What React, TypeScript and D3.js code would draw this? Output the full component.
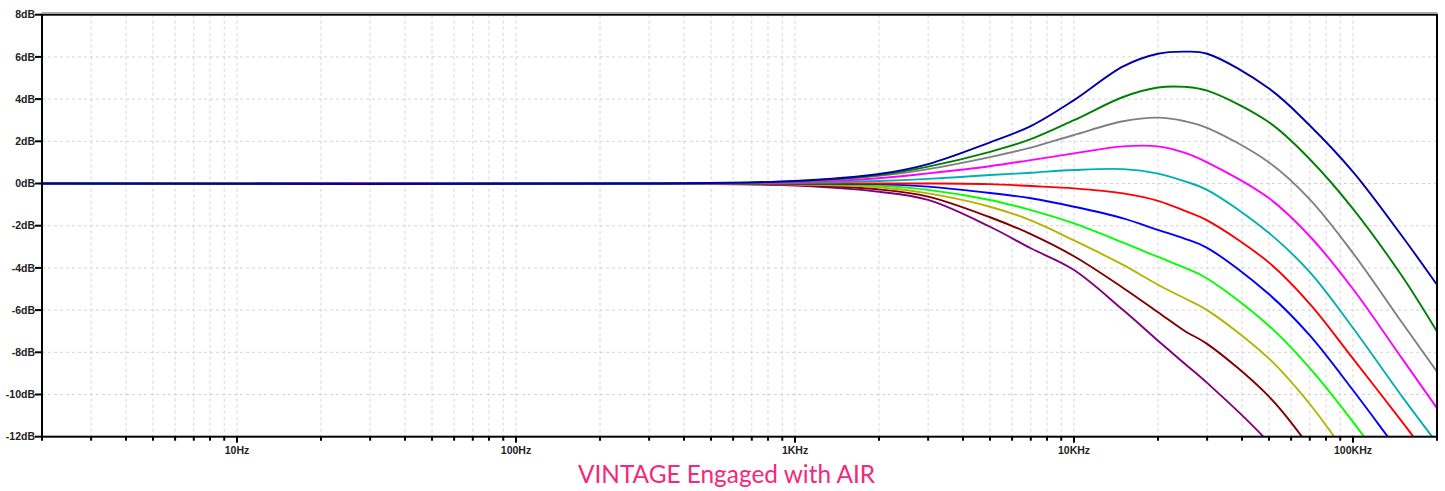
import { useMemo } from 'react';
import * as d3 from 'd3';

// frequency points (Hz) shared by every trace
const freqs = [2, 300, 1000, 2000, 3000, 5000, 7000, 10000, 15000, 20000, 25000, 30000, 50000, 70000, 100000, 150000, 200000];

// dB readings per trace, top trace first
const darkBlue = [0, 0, 0.12, 0.45, 0.92, 1.95, 2.72, 3.95, 5.55, 6.15, 6.25, 6.15, 4.5, 2.75, 0.55, -2.5, -4.8];
const green = [0, 0, 0.1, 0.4, 0.8, 1.5, 2.1, 3.0, 4.1, 4.55, 4.58, 4.4, 2.9, 1.15, -1.2, -4.4, -7.02];
const gray = [0, 0, 0.09, 0.36, 0.68, 1.25, 1.7, 2.3, 2.95, 3.12, 2.95, 2.64, 1.0, -0.75, -3.3, -6.6, -8.92];
const magenta = [0, 0, 0.06, 0.25, 0.48, 0.82, 1.11, 1.43, 1.76, 1.76, 1.45, 1.0, -0.7, -2.5, -5.0, -8.3, -10.65];
const cyan = [0, 0, 0.03, 0.12, 0.22, 0.4, 0.51, 0.64, 0.68, 0.47, 0.1, -0.3, -2.35, -4.2, -6.85, -10.1, -12.3];
const red = [0, 0, 0, 0, 0, -0.03, -0.12, -0.23, -0.47, -0.82, -1.3, -1.75, -3.75, -5.7, -8.3, -11.3, -13.5];
const blue = [0, 0, -0.01, -0.03, -0.15, -0.45, -0.7, -1.1, -1.65, -2.2, -2.62, -3.05, -5.25, -7.2, -9.8, -12.9, -15];
const lightGreen = [0, 0, -0.03, -0.1, -0.3, -0.78, -1.26, -1.89, -2.8, -3.48, -4.0, -4.5, -6.75, -8.75, -11.3, -14.5, -16.7];
const olive = [0, 0, -0.05, -0.18, -0.47, -1.1, -1.75, -2.7, -3.86, -4.8, -5.45, -6.0, -8.3, -10.45, -13.2, -16, -18];
const maroon = [0, 0, -0.07, -0.28, -0.62, -1.6, -2.4, -3.45, -4.95, -6.1, -7.0, -7.6, -10.1, -12.5, -15.5, -18.5, -20.5];
const purple = [0, 0, -0.1, -0.39, -0.78, -2.05, -3.07, -4.1, -6.0, -7.45, -8.55, -9.45, -12.3, -15, -18, -21, -23];

const series = [
  { values: purple, color: '#800080' },
  { values: maroon, color: '#800000' },
  { values: olive, color: '#b4b400' },
  { values: lightGreen, color: '#00ff00' },
  { values: blue, color: '#0000ff' },
  { values: red, color: '#ff0000' },
  { values: cyan, color: '#00b0b0' },
  { values: magenta, color: '#ff00ff' },
  { values: gray, color: '#808080' },
  { values: green, color: '#008000' },
  { values: darkBlue, color: '#0000a8' },
];

const yTicks = [8, 6, 4, 2, 0, -2, -4, -6, -8, -10, -12];
const xMajor = [10, 100, 1000, 10000, 100000];
const xLabels = ['10Hz', '100Hz', '1KHz', '10KHz', '100KHz'];
const title = 'VINTAGE Engaged with AIR';

const W = 1445;
const H = 491;
const margin = { top: 14.7, right: 8, bottom: 54.3, left: 42 };

export default function App() {
  const x = d3.scaleLog().domain([2, 200000]).range([margin.left, W - margin.right]);
  const y = d3.scaleLinear().domain([-12, 8]).range([H - margin.bottom, margin.top]);

  const minorTicks = useMemo(() => {
    const out: number[] = [];
    for (let d = 1; d <= 100000; d *= 10) {
      for (let m = 1; m <= 9; m++) {
        const f = d * m;
        if (f >= 2 && f <= 200000) out.push(f);
      }
    }
    return out;
  }, []);

  const line = d3.line<number>()
    .x((_, i) => x(freqs[i]))
    .y(d => y(d))
    .curve(d3.curveCatmullRom.alpha(0.5));

  const x0 = x.range()[0];
  const x1 = x.range()[1];
  const y0 = y.range()[1];
  const y1 = y.range()[0];

  return (
    <svg width={W} height={H} style={{ position: 'absolute', left: 0, top: 0, background: '#fff' }}
      fontFamily="'Liberation Sans', Arial, sans-serif">
      <defs>
        <clipPath id="plot">
          <rect x={x0} y={y0} width={x1 - x0} height={y1 - y0} />
        </clipPath>
      </defs>

      {/* grid */}
      <g stroke="#d4d4d4" strokeWidth={1} strokeDasharray="3,3">
        {minorTicks.map(f => (
          <line key={'v' + f} x1={x(f)} x2={x(f)} y1={y0} y2={y1} />
        ))}
        {yTicks.filter(t => t > -12 && t < 8).map(t => (
          <line key={'h' + t} x1={x0} x2={x1} y1={y(t)} y2={y(t)} />
        ))}
      </g>

      {/* traces */}
      <g clipPath="url(#plot)" fill="none" strokeWidth={1.9}>
        {series.map((s, i) => (
          <path key={i} d={line(s.values) || ''} stroke={s.color} />
        ))}
      </g>

      {/* frame */}
      <line x1={x0} x2={x1} y1={y0 - 2} y2={y0 - 2} stroke="#999" strokeWidth={1} />
      <rect x={x0} y={y0} width={x1 - x0} height={y1 - y0} fill="none" stroke="#000" strokeWidth={2} />

      {/* y axis */}
      <g>
        {yTicks.map(t => (
          <g key={t}>
            <line x1={x0 - 7} x2={x0} y1={y(t)} y2={y(t)} stroke="#000" strokeWidth={2} />
            <text x={x0 - 7} y={y(t)} dy="0.35em" textAnchor="end" fontSize={10.5} fontWeight="bold" fill="#222">
              {t}dB
            </text>
          </g>
        ))}
      </g>

      {/* x axis */}
      <g>
        {minorTicks.map(f => (
          <line key={'t' + f} x1={x(f)} x2={x(f)} y1={y1} y2={y1 + (xMajor.includes(f) ? 6 : 4)}
            stroke="#000" strokeWidth={2} />
        ))}
        {xMajor.map((f, i) => (
          <text key={f} x={x(f)} y={y1 + 17} textAnchor="middle" fontSize={10.5} fontWeight="bold" fill="#222">
            {xLabels[i]}
          </text>
        ))}
      </g>

      <text x={726.5} y={483} textAnchor="middle" fontFamily="Lato, 'Noto Sans', sans-serif" fontSize={25}
        fill="#f3287a" textLength={297} lengthAdjust="spacingAndGlyphs">
        {title}
      </text>
    </svg>
  );
}
